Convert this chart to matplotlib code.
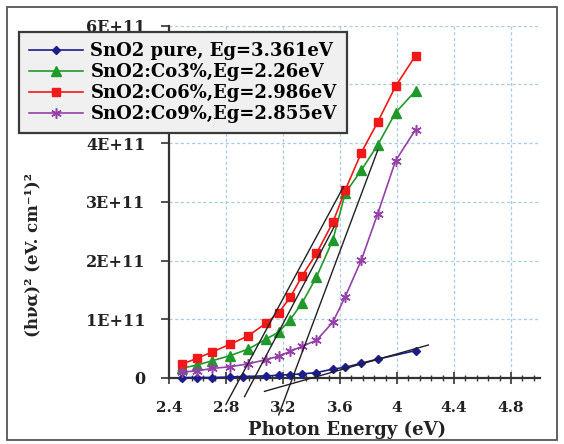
import numpy as np
import matplotlib
matplotlib.use("Agg")
import matplotlib.pyplot as plt
from matplotlib.patches import Rectangle
from matplotlib.ticker import MultipleLocator

# ---- data ----
energy = [2.49, 2.60, 2.70, 2.83, 2.956, 3.08, 3.17, 3.25, 3.335, 3.435, 3.55, 3.637, 3.75, 3.865, 3.99, 4.13]
red_co6 = [0.233, 0.336, 0.438, 0.574, 0.716, 0.93, 1.11, 1.37, 1.74, 2.12, 2.65, 3.20, 3.84, 4.36, 4.97, 5.49]
green_co3 = [0.165, 0.22, 0.29, 0.38, 0.49, 0.66, 0.78, 0.99, 1.28, 1.72, 2.35, 3.15, 3.54, 3.97, 4.52, 4.89]
purple_co9 = [0.10, 0.12, 0.16, 0.19, 0.24, 0.31, 0.37, 0.45, 0.54, 0.64, 0.95, 1.385, 2.01, 2.80, 3.70, 4.23]
blue_energy = [2.49, 2.60, 2.70, 2.83, 2.92, 3.08, 3.17, 3.25, 3.335, 3.435, 3.55, 3.637, 3.75, 3.865, 4.13]
blue_pure = [0.006, 0.006, 0.006, 0.015, 0.023, 0.034, 0.045, 0.057, 0.068, 0.09, 0.15, 0.18, 0.25, 0.32, 0.465]

labels = ["SnO2 pure, Eg=3.361eV", "SnO2:Co3%,Eg=2.26eV",
          "SnO2:Co6%,Eg=2.986eV", "SnO2:Co9%,Eg=2.855eV"]

# tangent (Tauc extrapolation) lines: [E_start, E_end], [y_start, y_end] (x1e11)
tan_red_E, tan_red_y = [2.80, 3.625], [-0.45, 3.26]
tan_green_E, tan_green_y = [2.93, 3.56], [-0.32, 2.58]
tan_purple_E, tan_purple_y = [3.17, 3.865], [-0.63, 3.88]
tan_blue_E, tan_blue_y = [3.07, 4.22], [-0.23, 0.56]

xticks = [2.4, 2.8, 3.2, 3.6, 4.0, 4.4, 4.8]
xtick_labels = ["2.4", "2.8", "3.2", "3.6", "4", "4.4", "4.8"]
yticks = [0, 1, 2, 3, 4, 5, 6]
# the 5E+11 label is hidden under the legend in the reference
ytick_labels = ["0", "1E+11", "2E+11", "3E+11", "4E+11", "", "6E+11"]

# ---- figure ----
plt.rcParams['font.family'] = ['DejaVu Serif']
plt.rcParams['font.weight'] = 'bold'
fig = plt.figure(figsize=(5.64, 4.44), dpi=100)
ax = fig.add_axes([0.2996, 0.063, 0.657, 0.879])

xmin, xmax = 2.4, 5.0
ymin, ymax = -0.65, 6.0
ax.set_xlim(xmin, xmax)
ax.set_ylim(ymin, ymax)

grid_kw = dict(color='#a9cbeb', linestyle=(0, (2.5, 2)), linewidth=0.9, zorder=0)
ax.vlines(xticks[1:], 0, ymax, **grid_kw)
ax.hlines(yticks[1:], xmin, xmax, **grid_kw)

c_blue, c_green, c_red, c_purple = '#1c1c8a', '#1f9a2a', '#f01818', '#9440a8'
ax.plot(blue_energy, blue_pure, color=c_blue, marker='D', ms=4.5, lw=1.2, label=labels[0], zorder=3)
ax.plot(energy, green_co3, color=c_green, marker='^', ms=6.5, lw=1.2, label=labels[1], zorder=3)
ax.plot(energy, red_co6, color=c_red, marker='s', ms=6, lw=1.2, label=labels[2], zorder=3)
ax.plot(energy, purple_co9, color=c_purple, marker=(6, 2, 0), ms=7.5, mew=1.1, lw=1.2,
        label=labels[3], zorder=3)

for te, ty in [(tan_red_E, tan_red_y), (tan_green_E, tan_green_y),
               (tan_purple_E, tan_purple_y), (tan_blue_E, tan_blue_y)]:
    ax.plot(te, ty, color='#202020', lw=1.0, zorder=4)

# spines
for s in ['top', 'right']:
    ax.spines[s].set_visible(False)
ax.spines['bottom'].set_position(('data', 0))
ax.spines['bottom'].set_bounds(xmin, xmax)
ax.spines['left'].set_bounds(0, ymax)
for s in ['bottom', 'left']:
    ax.spines[s].set_linewidth(1.6)
    ax.spines[s].set_color('#333333')

ax.set_xticks(xticks)
ax.set_xticklabels(xtick_labels)
ax.xaxis.set_minor_locator(MultipleLocator(0.08))
ax.set_yticks(yticks)
ax.set_yticklabels(ytick_labels)
ax.tick_params(axis='x', which='major', direction='inout', length=9, width=1.2,
               pad=12, labelsize=11, colors='#333333', labelcolor='#222222')
ax.tick_params(axis='x', which='minor', direction='inout', length=5, width=1.0, colors='#333333')
ax.tick_params(axis='y', which='major', direction='out', length=6, width=1.2,
               pad=11, labelsize=11.5, colors='#333333', labelcolor='#222222')
for t in ax.get_xticklabels() + ax.get_yticklabels():
    t.set_fontweight('bold')

fig.text(0.615, 0.032, "Photon Energy (eV)", ha='center', va='center',
         fontsize=13, fontweight='bold', color='#222222')
fig.text(0.058, 0.425, "(hνα)² (eV. cm⁻¹)²", ha='center', va='center', rotation=90,
         fontsize=12, fontweight='bold', color='#222222')

leg = ax.legend(loc='upper left', bbox_to_anchor=(0.034, 0.928), bbox_transform=fig.transFigure,
                borderaxespad=0, frameon=True, fancybox=False, handlelength=3.0,
                handletextpad=0.4, labelspacing=0.17, borderpad=0.55,
                prop={'family': 'DejaVu Serif', 'weight': 'bold', 'size': 13})
leg.get_frame().set_facecolor('#f0f0f0')
leg.get_frame().set_edgecolor('#3a3a3a')
leg.get_frame().set_linewidth(1.6)
leg.get_frame().set_alpha(1)
leg.set_zorder(10)

fig.patches.append(Rectangle((0.013, 0.008), 0.974, 0.976, transform=fig.transFigure,
                             fill=False, edgecolor='#555555', lw=1.3))

fig.savefig("out.png", dpi=100)
